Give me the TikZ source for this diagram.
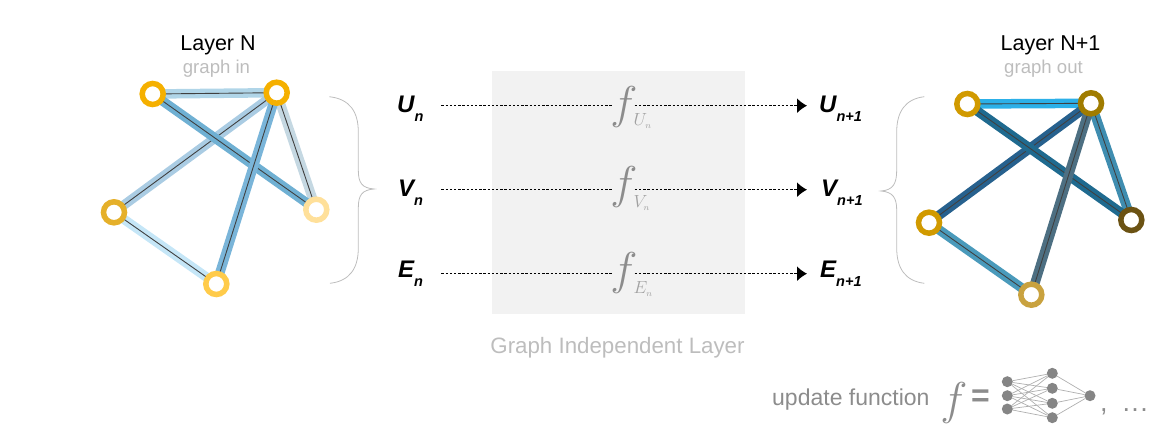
\documentclass[tikz,border=0pt]{standalone}
\usepackage{fix-cm}
\usepackage{fontspec}
\setmainfont{Liberation Sans}
\usetikzlibrary{arrows.meta,backgrounds}
\definecolor{ringa}{HTML}{F5B000}
\definecolor{ringb}{HTML}{E5B02A}
\definecolor{ringc}{HTML}{FFE09A}
\definecolor{ringd}{HTML}{FFCB4A}
\definecolor{ringe}{HTML}{D19A00}
\definecolor{ringf}{HTML}{A07C00}
\definecolor{ringg}{HTML}{6B5213}
\definecolor{ringh}{HTML}{C9A23F}
\definecolor{lightgray}{HTML}{BDBDBD}
\definecolor{midgray}{HTML}{8C8C8C}
\tikzset{
  ringnode/.style={circle,draw=#1,line width=5.5pt,fill=white,minimum size=21pt,inner sep=0pt,outer sep=0pt},
  edgeband/.style={line width=9.5pt,draw=#1},
  edgewire/.style={line width=0.9pt,draw=black!75},
  title/.style={anchor=base,inner sep=0pt,font=\fontsize{21.5}{24}\selectfont},
  subtitle/.style={anchor=base,inner sep=0pt,text=lightgray,font=\fontsize{18.6}{22}\selectfont},
  inlabel/.style={anchor=base west,inner sep=0pt,text width=#1,align=left},
  outlabel/.style={anchor=base west,inner xsep=12pt,inner ysep=0pt},
  fnode/.style={inner sep=0pt,text=midgray,font=\fontsize{46}{46}\selectfont},
  fsub/.style={anchor=base west,inner sep=0pt,text=lightgray!85!black,font=\fontsize{17.5}{18}\selectfont},
  flowline/.style={line width=1.2pt,dash pattern=on 2.4pt off 1.8pt},
  flowarrow/.style={flowline,-{Latex[length=10pt,width=15pt]}},
  bracket/.style={draw=lightgray,line width=0.8pt},
  netnode/.style={circle,fill=midgray!95!black,minimum size=11pt,inner sep=0pt,outer sep=0pt},
  netedge/.style={draw=midgray!70,line width=0.7pt}
}
\newcommand{\varlabel}[2]{{\fontsize{24}{24}\selectfont\bfseries\itshape #1}\raisebox{-9pt}{\fontsize{14.5}{15}\selectfont\bfseries\itshape #2}}
\begin{document}
\begin{tikzpicture}[x=1pt,y=-1pt]
\useasboundingbox (0,0) rectangle (1175,430);
\node[fill=black!5,minimum width=253pt,minimum height=243pt,inner sep=0pt] (panel) at (618.5,192.5) {};
% graph in
\node[title] (titlein) at (218,50.7) {Layer N};
\node[subtitle] (subin) at (216.5,74) {graph in};
\node[ringnode=ringa] (la) at (152.7,94) {};
\node[ringnode=ringa] (lb) at (276.7,92.7) {};
\node[ringnode=ringb] (lc) at (114,212.3) {};
\node[ringnode=ringc] (ld) at (316.3,209.7) {};
\node[ringnode=ringd] (le) at (216.3,284) {};
\begin{scope}[on background layer]
\foreach \a/\b/\col in {la/lb/B0D5E8,lb/lc/AACCE3,lb/ld/C5D8E2,lc/le/C5E6F7,la/ld/6FB0D3,lb/le/7AB5D9} {
  \definecolor{tmpcol}{HTML}{\col}
  \draw[edgeband=tmpcol] (\a) -- (\b);
  \draw[edgewire] (\a) -- (\b);
}
\end{scope}
\draw[bracket] (329.3,96.7) .. controls (350,99) and (358.3,112) .. (358.3,132) -- (358.3,170) .. controls (358.3,183) and (362,188) .. (374,189) .. controls (362,190) and (358.3,195) .. (358.3,208) -- (358.3,248) .. controls (358.3,268) and (350,281) .. (330,283.3);
% rows
\foreach \name/\ypos/\ybase/\yfn/\ysub/\xin/\xout in {U/105.7/113/106.8/126/397/819,V/189.7/197/187.3/208/398/821,E/273.7/278/273.3/294/398/820} {
  \coordinate (\name row) at (0,\ypos);
  \node[inlabel=\the\dimexpr441pt-\xin pt\relax] (\name in) at (\xin,\ybase) {\varlabel{\name}{n}};
  \node[outlabel] (\name out) at (\xout-12,\ybase) {\varlabel{\name}{n+1}};
  \node[fnode] (\name fn) at (624,\yfn) {\makebox[21pt][c]{$f$}};
  \node[fsub] (\name sub) at (633.5,\ysub) {$\name_{\scriptscriptstyle n}$};
  \draw[flowline] (\name in.east |- \name row) -- (\name fn.west |- \name row);
  \draw[flowarrow] (\name fn.east |- \name row) -- (807,\ypos);
}
\node[anchor=base,inner sep=0pt,text=lightgray,font=\fontsize{22.3}{24}\selectfont] (panellabel) at (617.5,353) {Graph Independent Layer};
% graph out
\node[title] (titleout) at (1050.5,50.7) {Layer N+1};
\node[subtitle] (subout) at (1043.5,74) {graph out};
\node[ringnode=ringe] (ra) at (967.3,104) {};
\node[ringnode=ringf] (rb) at (1091,103.3) {};
\node[ringnode=ringe] (rc) at (929,222.7) {};
\node[ringnode=ringg] (rd) at (1131.3,220) {};
\node[ringnode=ringh] (re) at (1031.3,294.7) {};
\begin{scope}[on background layer]
\foreach \a/\b/\col in {ra/rb/2CB0E8,rb/rc/27618E,rb/rd/3F8DB0,rc/re/4A9ABB,ra/rd/1F6A8F,rb/re/4D6F82} {
  \definecolor{tmpcol}{HTML}{\col}
  \draw[edgeband=tmpcol] (\a) -- (\b);
  \draw[edgewire] (\a) -- (\b);
}
\end{scope}
\draw[bracket] (924.3,96.7) .. controls (905,99) and (896.7,112) .. (896.7,132) -- (896.7,170) .. controls (896.7,184) and (893,190) .. (881,191) .. controls (893,192) and (896.7,198) .. (896.7,210) -- (896.7,248) .. controls (896.7,268) and (905,281) .. (924.3,283.3);
% update function
\node[anchor=base west,inner sep=0pt,text=midgray,font=\fontsize{23}{24}\selectfont] (updatelabel) at (772,405) {update function};
\node[fnode] (ufn) at (954,402.5) {$f$};
\node[anchor=center,inner sep=0pt,text=midgray,font=\fontsize{32}{32}\selectfont\bfseries] (ueq) at (980.5,398) {=};
\foreach \name/\ypos in {a/381.7,b/395.7,c/409} \node[netnode] (n1\name) at (1007.3,\ypos) {};
\foreach \name/\ypos in {a/373.3,b/388.3,c/403.3,d/417.7} \node[netnode] (n2\name) at (1052.3,\ypos) {};
\node[netnode] (n3) at (1090,395.7) {};
\begin{scope}[on background layer]
\foreach \a in {a,b,c} \foreach \b in {a,b,c,d} \draw[netedge] (n1\a) -- (n2\b);
\foreach \b in {a,b,c,d} \draw[netedge] (n2\b) -- (n3);
\end{scope}
\node[anchor=base west,inner sep=0pt,text=midgray,font=\fontsize{27}{27}\selectfont] (utail) at (1100,411) {,\hspace{0.55em}.\hspace{0.05em}.\hspace{0.05em}.};
\end{tikzpicture}
\end{document}
